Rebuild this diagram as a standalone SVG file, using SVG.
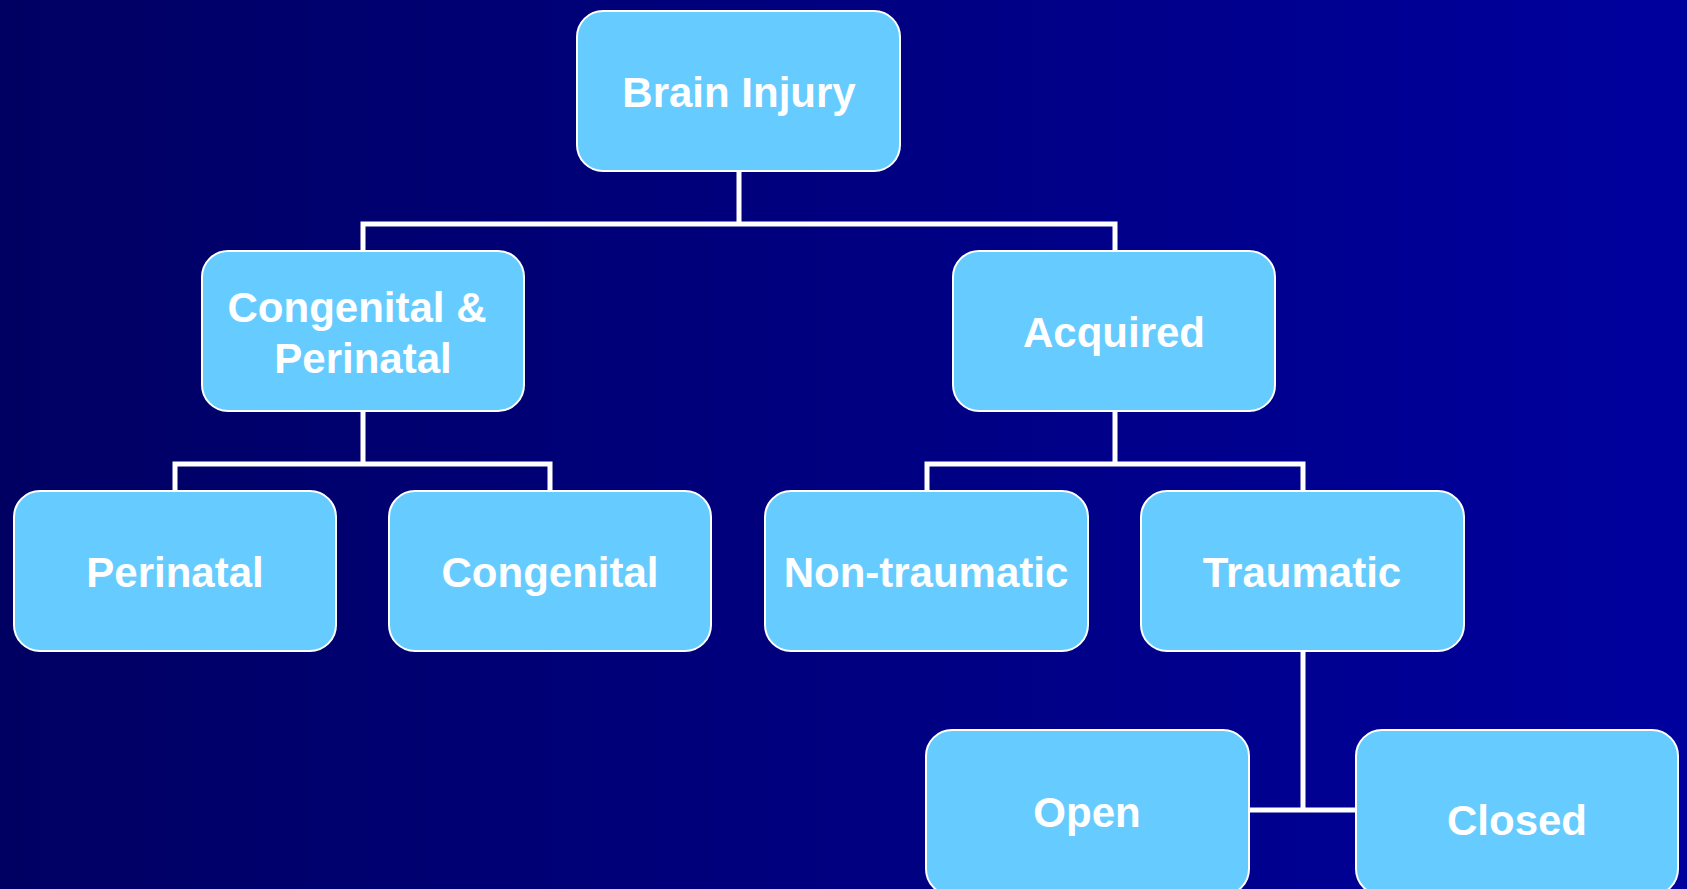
<svg xmlns="http://www.w3.org/2000/svg" width="1687" height="889" viewBox="0 0 1687 889">
<defs>
<linearGradient id="bg" x1="0" y1="0" x2="1" y2="0">
<stop offset="0" stop-color="#000063"/>
<stop offset="1" stop-color="#00009E"/>
</linearGradient>
</defs>
<style>
.box{fill:#66CCFF;stroke:#FFFFFF;stroke-width:2}
.lbl{font-family:"Liberation Sans",Arial,sans-serif;font-weight:bold;font-size:42px;fill:#FFFFFF;text-anchor:middle}
.conn{fill:none;stroke:#FFFFFF;stroke-width:5}
</style>
<rect x="0" y="0" width="1687" height="889" fill="url(#bg)"/>
<g id="connectors">
<path class="conn" d="M739 171 V224 M363 251 V224 H1115 V251"/>
<path class="conn" d="M363 411 V464 M175 491 V464 H550 V491"/>
<path class="conn" d="M1115 411 V464 M927 491 V464 H1303 V491"/>
<path class="conn" d="M1303 651 V810 M1249 810 H1356"/>
</g>
<g id="brain-injury">
<rect class="box" x="577" y="11" width="323" height="160" rx="26"/>
<text class="lbl" x="739" y="107">Brain Injury</text>
</g>
<g id="congenital-perinatal">
<rect class="box" x="202" y="251" width="322" height="160" rx="26"/>
<text class="lbl" x="357" y="322">Congenital &amp;</text>
<text class="lbl" x="363" y="373">Perinatal</text>
</g>
<g id="acquired">
<rect class="box" x="953" y="251" width="322" height="160" rx="26"/>
<text class="lbl" x="1114" y="347">Acquired</text>
</g>
<g id="perinatal">
<rect class="box" x="14" y="491" width="322" height="160" rx="26"/>
<text class="lbl" x="175" y="587">Perinatal</text>
</g>
<g id="congenital">
<rect class="box" x="389" y="491" width="322" height="160" rx="26"/>
<text class="lbl" x="550" y="587">Congenital</text>
</g>
<g id="non-traumatic">
<rect class="box" x="765" y="491" width="323" height="160" rx="26"/>
<text class="lbl" x="926" y="587">Non-traumatic</text>
</g>
<g id="traumatic">
<rect class="box" x="1141" y="491" width="323" height="160" rx="26"/>
<text class="lbl" x="1302" y="587">Traumatic</text>
</g>
<g id="open">
<rect class="box" x="926" y="730" width="323" height="165" rx="26"/>
<text class="lbl" x="1087" y="827">Open</text>
</g>
<g id="closed">
<rect class="box" x="1356" y="730" width="322" height="165" rx="26"/>
<text class="lbl" x="1517" y="835">Closed</text>
</g>
</svg>
